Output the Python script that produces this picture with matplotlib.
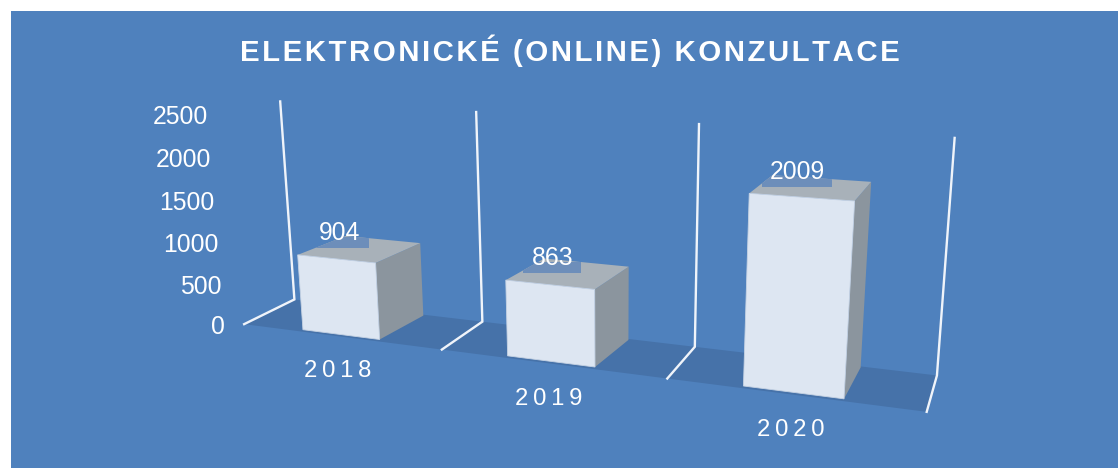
import matplotlib
matplotlib.use('Agg')
import matplotlib.pyplot as plt
from matplotlib.patches import Polygon, Rectangle
import numpy as np

plt.rcParams['font.family'] = ['Liberation Sans', 'DejaVu Sans']

years = ['2018', '2019', '2020']
values = [904, 863, 2009]
y_ticks = [0, 500, 1000, 1500, 2000, 2500]
title = 'ELEKTRONICKÉ (ONLINE) KONZULTACE'

BG = '#4f81bd'
FLOOR = '#4672a9'
FRONT = '#dde6f2'
TOP = '#a8b1b9'
SIDE = '#8b959e'
LABEL_BG = '#6d8eba'
LINE = '#f0f4fa'
Z_MAX = 2500

# the picture is a 3d chart, so fit a camera to the corners of the chart frame
# (category slot, depth, value) -> pixel
frame_world = [(0, 0, 0), (0, 1, 0), (0, 1, Z_MAX),
               (1, 0, 0), (1, 1, 0), (1, 1, Z_MAX),
               (2, 0, 0), (2, 1, 0), (2, 1, Z_MAX),
               (3, 0, 0), (3, 1, 0), (3, 1, Z_MAX)]
frame_pixels = [(244, 324.5), (294.3, 299), (280.3, 101.7),
                (442, 349.5), (482.5, 321.5), (476, 112),
                (667.3, 378.5), (695, 347), (699, 124),
                (926.7, 411.5), (936.7, 376), (954.7, 137.7)]


def fit_camera(world, pixels):
    rows, rhs = [], []
    for (x, y, z), (u, v) in zip(world, pixels):
        z = z / Z_MAX
        rows.append([x, y, z, 1, 0, 0, 0, 0, -u * x, -u * y, -u * z])
        rows.append([0, 0, 0, 0, x, y, z, 1, -v * x, -v * y, -v * z])
        rhs += [u, v]
    p = np.linalg.lstsq(np.array(rows, float), np.array(rhs, float), rcond=None)[0]
    return np.append(p, 1).reshape(3, 4)


camera = fit_camera(frame_world, frame_pixels)


def project(x, y, z):
    q = camera @ np.array([x, y, z / Z_MAX, 1.0])
    return q[0] / q[2], q[1] / q[2]


def spaced(text, gap):
    return gap.join(text)


fig = plt.figure(figsize=(11.18, 4.68), dpi=100, facecolor='white')
ax = fig.add_axes([0, 0, 1, 1])
ax.set_xlim(0, 1118)
ax.set_ylim(468, 0)
ax.axis('off')
ax.add_patch(Rectangle((10.5, 11), 1108, 457, facecolor=BG, edgecolor='none'))

# floor
ax.add_patch(Polygon([project(0, 0, 0), project(3, 0, 0), project(3, 1, 0), project(0, 1, 0)],
                     facecolor=FLOOR, edgecolor='none'))

# frame lines
for i in range(4):
    pts = [project(i, 0, 0), project(i, 1, 0), project(i, 1, Z_MAX)]
    ax.plot(*zip(*pts), color=LINE, lw=1.7, solid_joinstyle='miter')

half_width = 0.195
front_y, back_y = 0.06, 0.97
back_lean = [0.02, 0.02, 0.008]  # back face sits a little to the right in the picture
bar_slots = [0.49, 1.49, 2.498]
label_shift = [-20, -16, -15]

for i, (year, val) in enumerate(zip(years, values)):
    x0, x1 = bar_slots[i] - half_width, bar_slots[i] + half_width
    fl, fr = (x0, front_y), (x1, front_y)
    bl, br = (x0 + back_lean[i], back_y), (x1 + back_lean[i], back_y)
    front = [project(*fl, 0), project(*fr, 0), project(*fr, val), project(*fl, val)]
    side = [project(*fr, 0), project(*br, 0), project(*br, val), project(*fr, val)]
    top = [project(*fl, val), project(*fr, val), project(*br, val), project(*bl, val)]
    ax.add_patch(Polygon(side, facecolor=SIDE, edgecolor='none'))
    top_patch = Polygon(top, facecolor=TOP, edgecolor='none')
    ax.add_patch(top_patch)
    ax.add_patch(Polygon(front, facecolor=FRONT, edgecolor='#c5d2e3', lw=0.6))

    # data label with its shaded box on the top of the bar
    cx, cy = np.mean(top, axis=0)
    lx, ly = cx + label_shift[i], cy - 16
    half = 11 + 6 * len(str(val))
    box = Rectangle((lx - half, ly + 4), 2 * half, 11, facecolor=LABEL_BG, edgecolor='none')
    ax.add_patch(box)
    box.set_clip_path(top_patch)
    ax.text(lx, ly, str(val), color='white', fontsize=17.8, ha='center', va='center')

    # category label
    bx, by = project(i + 0.5, 0, 0)
    ax.text(bx - 2, by + 35, spaced(year, '\u2009'), color='white', fontsize=17.2,
            ha='center', va='center')

# value axis labels
for t in y_ticks:
    px, py = project(0, 0, t)
    ax.text(px - 19, py + 3, str(t), color='white', fontsize=17.8, ha='right', va='center')

ax.text(570, 51, spaced(title, '\u200a'), color='white', fontsize=21.2, fontweight='bold',
        ha='center', va='center')

fig.savefig('out.png', dpi=100)
plt.close(fig)
